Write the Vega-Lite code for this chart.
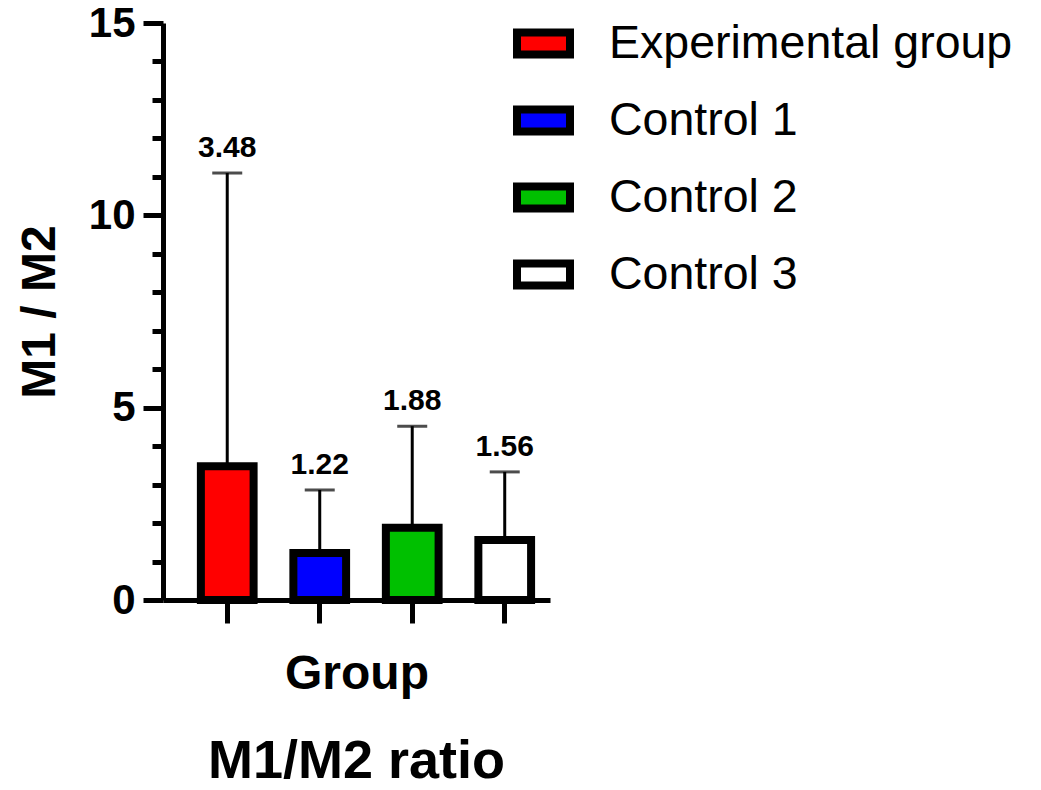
{
  "$schema": "https://vega.github.io/schema/vega-lite/v6.json",
  "width": 387,
  "height": 577,
  "autosize": "none",
  "padding": {"left": 163, "top": 23, "right": 491, "bottom": 190},
  "background": "white",
  "config": {
    "view": {"stroke": null},
    "font": "Liberation Sans",
    "axisY": {
      "labelOverlap": false,
      "tickWidth": 5, "tickColor": "black", "domainWidth": 5, "domainColor": "black",
      "labelFontSize": 42, "labelFontWeight": "bold", "labelColor": "black", "labelFont": "Liberation Sans", "labelPadding": 8,
      "titleFontSize": 48, "titleFontWeight": "bold", "titleColor": "black", "titleFont": "Liberation Sans", "titlePadding": 24,
      "grid": false
    }
  },
  "title": {"text": "M1/M2 ratio", "orient": "bottom", "fontSize": 54, "fontWeight": "bold", "font": "Liberation Sans", "offset": 36, "anchor": "middle", "color": "black"},
  "data": {"values": [
    {"group": "Experimental group", "mean": 3.48, "upper": 11.1},
    {"group": "Control 1", "mean": 1.22, "upper": 2.86},
    {"group": "Control 2", "mean": 1.88, "upper": 4.52},
    {"group": "Control 3", "mean": 1.56, "upper": 3.33}
  ]},
  "encoding": {
    "x": {
      "field": "group", "type": "nominal", "sort": null,
      "scale": {"paddingInner": 0.43, "paddingOuter": 0.307, "align": 0.667},
      "axis": {"title": "Group", "labels": false, "tickSize": 23, "tickWidth": 5, "tickColor": "black", "domainWidth": 5, "domainColor": "black", "titleFontSize": 48, "titleFontWeight": "bold", "titleColor": "black", "titleFont": "Liberation Sans", "titlePadding": 25, "zindex": 1}
    }
  },
  "layer": [
    {
      "mark": {"type": "bar", "stroke": "black", "strokeWidth": 8},
      "encoding": {
        "y": {
          "field": "mean", "type": "quantitative", "title": "M1 / M2",
          "scale": {"domain": [0, 15], "nice": false, "zero": true},
          "axis": {
            "title": "M1 / M2", "zindex": 1,
            "values": [0,1,2,3,4,5,6,7,8,9,10,11,12,13,14,15],
            "labelExpr": "(datum.value == 0 || datum.value == 5 || datum.value == 10 || datum.value == 15) ? datum.label : ''",
            "tickSize": {"condition": {"test": "datum.value == 0 || datum.value == 5 || datum.value == 10 || datum.value == 15", "value": 20}, "value": 11}
          }
        },
        "fill": {
          "field": "group", "type": "nominal", "sort": null,
          "scale": {"domain": ["Experimental group", "Control 1", "Control 2", "Control 3"], "range": ["#ff0000", "#0000ff", "#00c000", "#ffffff"]},
          "legend": {
            "title": null, "orient": "none", "legendX": 350, "legendY": -10, "padding": 0,
            "symbolType": "M-1,-0.415H1V0.415H-1Z", "symbolSize": 2809, "symbolStrokeWidth": 8, "symbolStrokeColor": "black",
            "labelFontSize": 46.5, "labelFont": "Liberation Sans", "labelColor": "black", "labelOffset": 35, "rowPadding": 19, "labelLimit": 600
          }
        }
      }
    },
    {
      "mark": {"type": "rule", "strokeWidth": 3, "color": "black"},
      "encoding": {
        "y": {
          "field": "mean", "type": "quantitative", "title": "M1 / M2",
          "axis": {
            "title": "M1 / M2", "zindex": 1,
            "values": [0,1,2,3,4,5,6,7,8,9,10,11,12,13,14,15],
            "labelExpr": "(datum.value == 0 || datum.value == 5 || datum.value == 10 || datum.value == 15) ? datum.label : ''",
            "tickSize": {"condition": {"test": "datum.value == 0 || datum.value == 5 || datum.value == 10 || datum.value == 15", "value": 20}, "value": 11}
          }
        },
        "y2": {"field": "upper"}
      }
    },
    {
      "mark": {"type": "tick", "thickness": 3, "size": 30, "color": "black"},
      "encoding": {
        "y": {
          "field": "upper", "type": "quantitative", "title": "M1 / M2",
          "axis": {
            "title": "M1 / M2", "zindex": 1,
            "values": [0,1,2,3,4,5,6,7,8,9,10,11,12,13,14,15],
            "labelExpr": "(datum.value == 0 || datum.value == 5 || datum.value == 10 || datum.value == 15) ? datum.label : ''",
            "tickSize": {"condition": {"test": "datum.value == 0 || datum.value == 5 || datum.value == 10 || datum.value == 15", "value": 20}, "value": 11}
          }
        }
      }
    },
    {
      "mark": {"type": "text", "fontSize": 30, "fontWeight": "bold", "font": "Liberation Sans", "dy": -16, "baseline": "alphabetic", "color": "black"},
      "encoding": {
        "y": {
          "field": "upper", "type": "quantitative", "title": "M1 / M2",
          "axis": {
            "title": "M1 / M2", "zindex": 1,
            "values": [0,1,2,3,4,5,6,7,8,9,10,11,12,13,14,15],
            "labelExpr": "(datum.value == 0 || datum.value == 5 || datum.value == 10 || datum.value == 15) ? datum.label : ''",
            "tickSize": {"condition": {"test": "datum.value == 0 || datum.value == 5 || datum.value == 10 || datum.value == 15", "value": 20}, "value": 11}
          }
        },
        "text": {"field": "mean", "type": "quantitative", "format": ".2f"}
      }
    }
  ]
}
